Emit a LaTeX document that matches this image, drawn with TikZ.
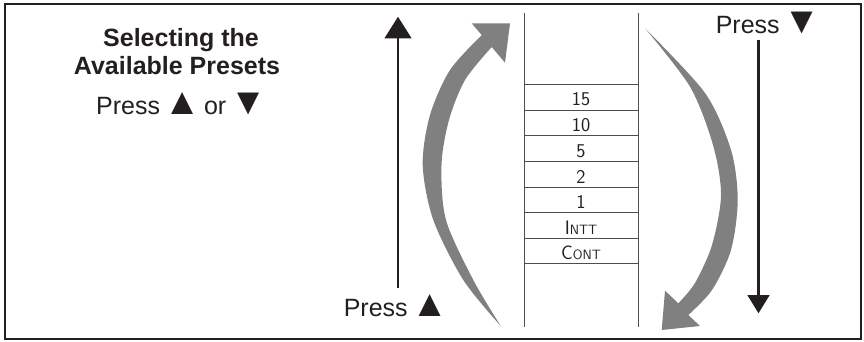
\documentclass[tikz,border=0pt]{standalone}
\usepackage{fontspec}
\setmainfont{Liberation Sans}
\usetikzlibrary{arrows.meta}
\definecolor{ink}{HTML}{231F20}
\definecolor{curvegray}{HTML}{808080}
\definecolor{tablegray}{HTML}{4D4D4D}
\newcommand{\upglyph}{\hspace{-3.5pt}\scalebox{1.5}{▲}\hspace{-3.5pt}}
\newcommand{\dnglyph}{\hspace{-3.5pt}\scalebox{1.5}{▼}\hspace{-3.5pt}}
\begin{document}
\begin{tikzpicture}[x=1pt,y=-1pt,
  txt/.style={inner sep=0pt, anchor=base, text=ink, font=\fontsize{25}{30}\selectfont},
  ttl/.style={txt, font=\fontsize{25}{30}\selectfont\bfseries},
  lcd/.style={inner sep=0pt, anchor=base, text=ink, font=\fontsize{19.5}{19.5}\sffamily\addfontfeature{FakeStretch=0.72}},
  tbl/.style={draw=tablegray, line width=0.9pt},
  blackarrow/.style={draw=ink, line width=2.7pt},
  bigcurve/.style={fill=curvegray}]
\useasboundingbox (0,0) rectangle (864,342);
\draw[line width=2pt, ink] (4.5,4.5) rectangle (860.5,338.5);

% headings
\node[ttl] (t1) at (181,47) {Selecting the};
\node[ttl] (t2) at (177,75) {Available Presets};
\node[txt] (t3) at (181.5,115) {Press \upglyph{} or \dnglyph};
\node[txt] (pu) at (396,316) {Press \upglyph};
\node[txt] (pd) at (768,34) {Press \dnglyph};

% table
\coordinate (tl) at (524,13); \coordinate (bl) at (524,327);
\coordinate (tr) at (638,13); \coordinate (br) at (638,327);
\draw[tbl] (tl) -- (bl);
\draw[tbl] (tr) -- (br);
\foreach \yy in {84,110,135.7,161,187,212.3,238,263.3}
  \draw[tbl] (524,\yy) -- (638,\yy);
\node[lcd] (r1) at (581,106) {15};
\node[lcd] (r2) at (581,131.7) {10};
\node[lcd] (r3) at (581,157.3) {5};
\node[lcd] (r4) at (581,183) {2};
\node[lcd] (r5) at (581,208.3) {1};
\node[lcd] (r6) at (581,234) {I{\fontsize{13.5}{13.5}\selectfont NTT}};
\node[lcd] (r7) at (581,259.3) {C{\fontsize{13.5}{13.5}\selectfont ONT}};

% black straight arrows
\coordinate (upstart) at (398,288);
\coordinate (upend) at (398,16.7);
\draw[blackarrow, -{Triangle[width=26.5pt,length=21.6pt]}] (upstart) -- (upend);
\coordinate (dnstart) at (758.5,40);
\coordinate (dnend) at (758.5,313.3);
\draw[blackarrow, -{Triangle[width=21.7pt,length=18.3pt]}] (dnstart) -- (dnend);

% grey curved arrow, going up
\fill[bigcurve] plot[smooth] coordinates {(500.7,326) (463.3,280) (433.3,220) (422.7,165) (430,115) (450,70) (481.7,35.1)}
  -- (471.7,23.3) -- (510,23.3) -- (505,62.7) -- (491.7,47)
  -- plot[smooth] coordinates {(491.7,47) (465,80) (449,120) (441.5,165) (446,220) (473.3,280) (500.7,326)} -- cycle;

% grey curved arrow, going down
\fill[bigcurve] plot[smooth] coordinates {(645,28.3) (690,86.7) (713,145) (721,195) (712,245) (695,283) (678.3,303.3)}
  -- (665,290.7) -- (661.7,330) -- (700,326) -- (688.3,315)
  -- plot[smooth] coordinates {(688.3,315) (712,290) (731,250) (737.7,200) (731,150) (705,93) (645,28.3)} -- cycle;
\end{tikzpicture}
\end{document}
